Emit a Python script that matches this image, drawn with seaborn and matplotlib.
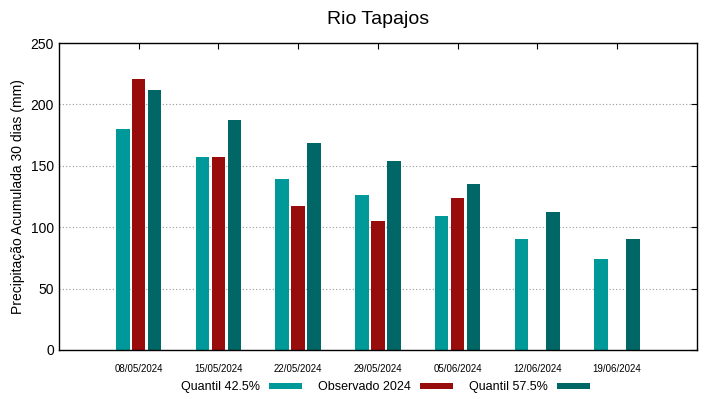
import matplotlib
matplotlib.use("Agg")
import matplotlib.pyplot as plt
import seaborn as sns
import pandas as pd
import numpy as np

datas = ["08/05/2024", "15/05/2024", "22/05/2024", "29/05/2024",
         "05/06/2024", "12/06/2024", "19/06/2024"]
quantil_425 = [180, 157, 139, 126, 109, 90, 74]
observado_2024 = [221, 157, 117, 105, 124, np.nan, np.nan]
quantil_575 = [212, 187, 169, 154, 135, 112, 90]

series = ["Quantil 42.5%", "Observado 2024", "Quantil 57.5%"]
cores = ["#009999", "#990c0c", "#006666"]

df = pd.DataFrame({
    "data": datas * 3,
    "valor": quantil_425 + observado_2024 + quantil_575,
    "serie": [s for s in series for _ in datas],
})

sns.set_style("white")
plt.rcParams["font.family"] = ["Liberation Sans", "DejaVu Sans"]
plt.rcParams["text.color"] = "black"
plt.rcParams["axes.labelcolor"] = "black"
plt.rcParams["xtick.color"] = "black"
plt.rcParams["ytick.color"] = "black"

fig, ax = plt.subplots(figsize=(7.19, 3.99), dpi=100)
fig.subplots_adjust(left=0.082, right=0.969, top=0.892, bottom=0.123)

sns.barplot(data=df, x="data", y="valor", hue="serie", hue_order=series,
            palette=cores, width=0.6, gap=0.15, saturation=1, ax=ax,
            errorbar=None, linewidth=0)

ax.set_xlim(-1, 7)
ax.set_ylim(0, 250)
ax.set_yticks(range(0, 251, 50))
ax.yaxis.grid(True, linestyle=(0, (1, 2)), color="#999999", linewidth=0.8)
ax.set_axisbelow(True)
for s in ax.spines.values():
    s.set_color("black")
    s.set_linewidth(1)
    s.set_visible(True)
ax.tick_params(axis="both", direction="in", top=True, right=True, length=4,
               color="black")
ax.tick_params(axis="x", labelsize=7, pad=10)
ax.tick_params(axis="y", labelsize=10)

ax.set_xlabel("")
ax.set_ylabel("Precipitação Acumulada 30 dias (mm)", fontsize=10)
ax.set_title("Rio Tapajos", fontsize=14, pad=14)

handles, labels = ax.get_legend_handles_labels()
ax.legend(handles, labels, loc="center", bbox_to_anchor=(0.512, -0.122),
          ncol=3, frameon=False, markerfirst=False, handlelength=2.65,
          handleheight=0.45, columnspacing=1.3, handletextpad=0.7, fontsize=9,
          borderpad=0, borderaxespad=0)

plt.savefig("out.png", dpi=100)
